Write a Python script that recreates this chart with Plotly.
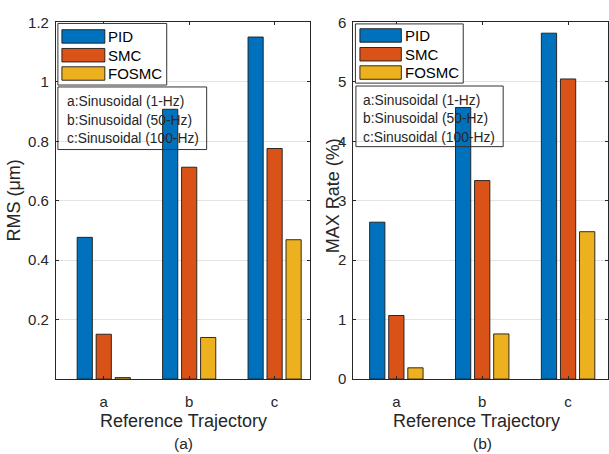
import plotly.graph_objects as go

# Data
categories = ["a", "b", "c"]
cat_pos = [1, 2, 3]
series_names = ["PID", "SMC", "FOSMC"]
series_colors = ["#0072BD", "#D95319", "#EDB120"]

rms_pid = [0.477, 0.908, 1.151]
rms_smc = [0.151, 0.713, 0.776]
rms_fosmc = [0.005, 0.140, 0.469]

max_pid = [2.64, 4.57, 5.82]
max_smc = [1.07, 3.34, 5.05]
max_fosmc = [0.19, 0.76, 2.48]

rms_ticks = [0.2, 0.4, 0.6, 0.8, 1.0, 1.2]
max_ticks = [0, 1, 2, 3, 4, 5, 6]

trajectory_notes = ["a:Sinusoidal (1-Hz)", "b:Sinusoidal (50-Hz)", "c:Sinusoidal (100-Hz)"]

W, H = 609, 454
FONT = "Liberation Sans, Arial, Helvetica, sans-serif"
INK = "#262626"


def px(x):
    return x / W


def py(y):
    return 1 - y / H


fig = go.Figure()

for vals, name, color in zip([rms_pid, rms_smc, rms_fosmc], series_names, series_colors):
    fig.add_trace(go.Bar(x=cat_pos, y=vals, name=name, marker_color=color,
                         marker_line=dict(color="#1a1a1a", width=0.9),
                         xaxis="x", yaxis="y", showlegend=False))
for vals, name, color in zip([max_pid, max_smc, max_fosmc], series_names, series_colors):
    fig.add_trace(go.Bar(x=cat_pos, y=vals, name=name, marker_color=color,
                         marker_line=dict(color="#1a1a1a", width=0.9),
                         xaxis="x2", yaxis="y2", showlegend=False))

y_dom = [py(384.5), py(14)]

common_x = dict(tickvals=cat_pos, ticktext=categories, ticks="inside", ticklen=3,
                tickcolor=INK, showline=True, linecolor=INK, linewidth=1, mirror="ticks",
                showgrid=False, zeroline=False, ticklabelstandoff=9,
                tickfont=dict(family=FONT, size=15, color=INK))
common_y = dict(ticks="inside", ticklen=3, tickcolor=INK, showline=True, linecolor=INK,
                linewidth=1, mirror="ticks", showgrid=True, gridcolor="#e3e3e3",
                gridwidth=1, zeroline=False, ticklabelstandoff=3,
                tickfont=dict(family=FONT, size=15, color=INK))

fig.update_layout(
    width=W, height=H,
    margin=dict(l=0, r=0, t=0, b=0),
    paper_bgcolor="white", plot_bgcolor="white",
    barmode="group", bargap=0.333, bargroupgap=0.2,
    xaxis=dict(domain=[px(56), px(311)], range=[0.44, 3.42], anchor="y", **common_x),
    yaxis=dict(domain=y_dom, range=[0, 1.2], tickvals=rms_ticks,
               ticktext=["0.2", "0.4", "0.6", "0.8", "1", "1.2"], anchor="x", **common_y),
    xaxis2=dict(domain=[px(354), 1.0], range=[0.5, 3.465], anchor="y2", **common_x),
    yaxis2=dict(domain=y_dom, range=[0, 6], tickvals=max_ticks, anchor="x2", **common_y),
)

shapes = []
annotations = []


def add_legend(x0, y0, x1, y1, sw_x0, sw_x1, text_x, rows, sw_h):
    shapes.append(dict(type="rect", xref="paper", yref="paper",
                       x0=px(x0), x1=px(x1), y0=py(y0), y1=py(y1),
                       line=dict(color="#333333", width=1), fillcolor="white", layer="above"))
    for name, color, yc in zip(series_names, series_colors, rows):
        shapes.append(dict(type="rect", xref="paper", yref="paper",
                           x0=px(sw_x0), x1=px(sw_x1), y0=py(yc - sw_h / 2), y1=py(yc + sw_h / 2),
                           line=dict(color="#1a1a1a", width=0.9), fillcolor=color, layer="above"))
        annotations.append(dict(xref="paper", yref="paper", x=px(text_x), y=py(yc),
                                xanchor="left", yanchor="middle", showarrow=False, text=name,
                                font=dict(family=FONT, size=15, color="black")))


def add_notes(x0, y0, x1, y1, text_x, rows):
    shapes.append(dict(type="rect", xref="paper", yref="paper",
                       x0=px(x0), x1=px(x1), y0=py(y0), y1=py(y1),
                       line=dict(color="#333333", width=1), fillcolor="rgba(0,0,0,0)",
                       layer="above"))
    for note, yc in zip(trajectory_notes, rows):
        annotations.append(dict(xref="paper", yref="paper", x=px(text_x), y=py(yc),
                                xanchor="left", yanchor="middle", showarrow=False, text=note,
                                font=dict(family=FONT, size=13.8, color=INK)))


# left panel legend and notes
add_legend(58, 15, 167, 79, 62, 105, 106, [28.5, 48, 67], 14)
add_notes(58, 81, 207, 146, 65, [96, 115.5, 135])
# right panel legend and notes
add_legend(356, 15.5, 464, 77, 360.5, 402, 404, [27.5, 47, 66], 14)
add_notes(356.5, 80, 504, 143, 362, [95, 114, 133])


def label(x, y, text, size, angle=0):
    annotations.append(dict(xref="paper", yref="paper", x=px(x), y=py(y), text=text,
                            showarrow=False, xanchor="center", yanchor="middle",
                            textangle=angle, font=dict(family=FONT, size=size, color=INK)))


label(183.5, 428, "Reference Trajectory", 18)
label(183.5, 451, "(a)", 15.5)
label(14, 199, "RMS (μm)", 18, -90)
label(477, 428, "Reference Trajectory", 18)
label(483, 451, "(b)", 15.5)
label(333, 194, "MAX Rate (%)", 18, -90)

fig.update_layout(shapes=shapes, annotations=annotations)

fig.write_html("out.html")
